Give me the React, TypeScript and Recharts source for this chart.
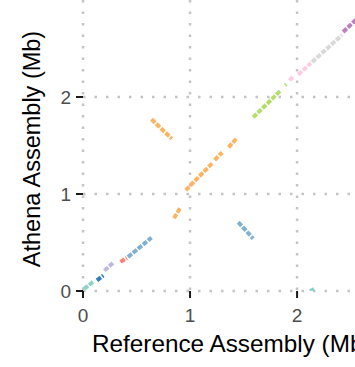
import React from "react";
import { ComposedChart, Scatter, XAxis, YAxis, CartesianGrid, Label } from "recharts";

// Alignment segments (Mb): reference start/end, Athena start/end, colour per segment
const refStart = [0.01, 0.13, 0.2, 0.35, 0.42, 0.85, 0.96, 1.23, 1.36, 0.64, 1.45, 1.59, 1.89, 1.93, 2.01, 2.14, 2.43, 2.12];
const refEnd = [0.1, 0.19, 0.28, 0.41, 0.64, 0.91, 1.21, 1.3, 1.44, 0.83, 1.59, 1.84, 1.9, 1.96, 2.13, 2.42, 2.62, 2.16];
const athStart = [0.02, 0.11, 0.21, 0.3, 0.35, 0.75, 1.04, 1.35, 1.48, 1.77, 0.71, 1.79, 2.12, 2.17, 2.23, 2.36, 2.67, 0.0];
const athEnd = [0.1, 0.16, 0.29, 0.34, 0.55, 0.86, 1.32, 1.43, 1.58, 1.57, 0.54, 2.06, 2.13, 2.21, 2.35, 2.64, 2.87, 0.02];
const segColor = [
  "#8DD3C7", "#2F7DBE", "#BEBADA", "#FB8072", "#80B1D3", "#FDB462", "#FDB462", "#FDB462", "#FDB462",
  "#FDB462", "#80B1D3", "#B3DE69", "#B3DE69", "#FCCDE5", "#FCCDE5", "#D9D9D9", "#BC80BD", "#8DD3C7",
];

const xTicks = [0, 1, 2];
const yTicks = [0, 1, 2];

const segments = refStart.map((x1, i) => ({
  id: i,
  color: segColor[i],
  data: [
    { x: x1, y: athStart[i] },
    { x: refEnd[i], y: athEnd[i] },
  ],
}));

const FONT = "'Liberation Sans', Arial, Helvetica, sans-serif";

export default function App() {
  return (
    <div style={{ position: "fixed", left: 0, top: 0, width: 355, height: 367, overflow: "hidden", background: "#fff" }}>
      <ComposedChart width={382} height={367} margin={{ top: 0, right: 10, bottom: 0, left: 0 }}>
        <CartesianGrid
          stroke="#C4C4C4"
          strokeWidth={2.5}
          strokeDasharray="2.5 9"
          horizontalValues={yTicks}
          verticalValues={xTicks}
        />
        <XAxis
          type="number"
          dataKey="x"
          domain={[0, 2.7]}
          ticks={xTicks}
          allowDataOverflow
          axisLine={false}
          tickLine={{ stroke: "#1a1a1a", strokeWidth: 2 }}
          tickSize={7}
          tickMargin={11}
          height={76}
          tick={{ fill: "#4D4D4D", fontSize: 19, fontFamily: FONT }}
        >
          <Label
            content={() => (
              <text x={92} y={352} textAnchor="start" fontSize={24.3} fontFamily={FONT} fill="#000">
                Reference Assembly (Mb)
              </text>
            )}
          />
        </XAxis>
        <YAxis
          type="number"
          dataKey="y"
          domain={[0, 3]}
          ticks={yTicks}
          allowDataOverflow
          axisLine={false}
          tickLine={{ stroke: "#1a1a1a", strokeWidth: 2 }}
          tickSize={7}
          tickMargin={5}
          width={83}
          tick={{ fill: "#4D4D4D", fontSize: 19, fontFamily: FONT }}
        >
          <Label
            content={() => (
              <text
                x={40}
                y={149}
                transform="rotate(-90 40 149)"
                textAnchor="middle"
                fontSize={23.5}
                fontFamily={FONT}
                fill="#000"
              >
                Athena Assembly (Mb)
              </text>
            )}
          />
        </YAxis>
        {segments.map((s) => (
          <Scatter
            key={s.id}
            data={s.data}
            isAnimationActive={false}
            line={{ stroke: s.color, strokeWidth: 4, strokeDasharray: "5 1.5" }}
            shape={() => <g />}
          />
        ))}
      </ComposedChart>
    </div>
  );
}
